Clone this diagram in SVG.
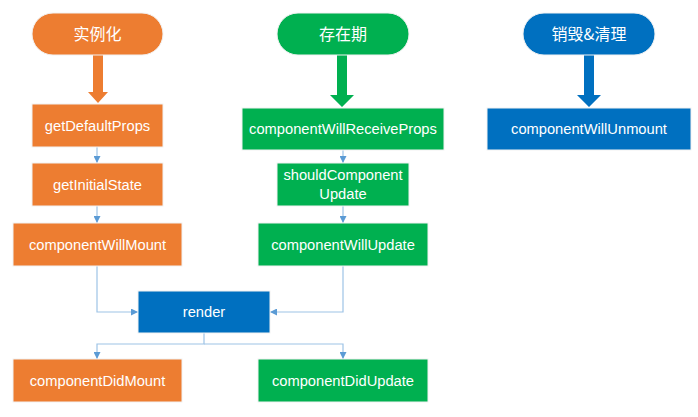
<svg xmlns="http://www.w3.org/2000/svg" width="698" height="417" viewBox="0 0 698 417">
<style>
.or{fill:#ED7D31}
.gr{fill:#00B050}
.bl{fill:#0070C0}
.box{stroke:#F2F2F2;stroke-width:1}
.t{font-family:"Liberation Sans",Arial,sans-serif;font-size:14.7px;fill:#FFFFFF;text-anchor:middle}
.c{font-family:"Noto Sans CJK SC","Noto Sans",sans-serif;font-size:16px;fill:#FFFFFF;text-anchor:middle}
.ln{fill:none;stroke:#9DC3E6;stroke-width:1.2}
</style>
<defs>
<marker id="ah" viewBox="0 0 10 10" refX="10" refY="5" markerWidth="7" markerHeight="7" markerUnits="userSpaceOnUse" orient="auto">
<path d="M0,0 L10,5 L0,10 z" fill="#5B9BD5"/>
</marker>
</defs>
<rect width="698" height="417" fill="#FFFFFF"/>
<g id="connectors">
<polygon class="or" points="93,55 103,55 103,92 108,92 98,103 88,92 93,92"/>
<polygon class="gr" points="337,55 347,55 347,95 354,95 342,107 330,95 337,95"/>
<polygon class="bl" points="584,55 594,55 594,95 601,95 589,107 577,95 584,95"/>
<line class="ln" x1="97" y1="147" x2="97" y2="163" marker-end="url(#ah)"/>
<line class="ln" x1="97" y1="206" x2="97" y2="223" marker-end="url(#ah)"/>
<line class="ln" x1="343" y1="150" x2="343" y2="163" marker-end="url(#ah)"/>
<line class="ln" x1="343" y1="206" x2="343" y2="223" marker-end="url(#ah)"/>
<polyline class="ln" points="97,266 97,312 138,312" marker-end="url(#ah)"/>
<polyline class="ln" points="343,266 343,312 270,312" marker-end="url(#ah)"/>
<polyline class="ln" points="204,333 204,344 97,344 97,359" marker-end="url(#ah)"/>
<polyline class="ln" points="204,344 343,344 343,359" marker-end="url(#ah)"/>
</g>
<g id="n-instantiate"><rect class="or box" x="32" y="13" width="131" height="42" rx="21"/><text class="c" x="97.5" y="40">实例化</text></g>
<g id="n-exist"><rect class="gr box" x="277" y="13" width="132" height="42" rx="21"/><text class="c" x="343" y="40">存在期</text></g>
<g id="n-destroy"><rect class="bl box" x="523" y="13" width="132" height="42" rx="21"/><text class="c" x="589" y="40">销毁&amp;清理</text></g>
<g id="n-getDefaultProps"><rect class="or box" x="32" y="104" width="131" height="43"/><text class="t" x="97.5" y="131">getDefaultProps</text></g>
<g id="n-getInitialState"><rect class="or box" x="32" y="163" width="131" height="43"/><text class="t" x="97.5" y="190">getInitialState</text></g>
<g id="n-componentWillMount"><rect class="or box" x="13" y="223" width="169" height="43"/><text class="t" x="97.5" y="250">componentWillMount</text></g>
<g id="n-componentWillReceiveProps"><rect class="gr box" x="242" y="108" width="202" height="42"/><text class="t" x="343" y="134">componentWillReceiveProps</text></g>
<g id="n-shouldComponentUpdate"><rect class="gr box" x="277" y="163" width="132" height="43"/><text class="t" x="343" y="180">shouldComponent</text><text class="t" x="343" y="199">Update</text></g>
<g id="n-componentWillUpdate"><rect class="gr box" x="258" y="223" width="170" height="43"/><text class="t" x="343" y="250">componentWillUpdate</text></g>
<g id="n-componentWillUnmount"><rect class="bl box" x="487" y="108" width="204" height="42"/><text class="t" x="589" y="134">componentWillUnmount</text></g>
<g id="n-render"><rect class="bl box" x="138" y="291" width="132" height="42"/><text class="t" x="204" y="317">render</text></g>
<g id="n-componentDidMount"><rect class="or box" x="13" y="359" width="169" height="43"/><text class="t" x="97.5" y="386">componentDidMount</text></g>
<g id="n-componentDidUpdate"><rect class="gr box" x="258" y="359" width="170" height="43"/><text class="t" x="343" y="386">componentDidUpdate</text></g>
</svg>
